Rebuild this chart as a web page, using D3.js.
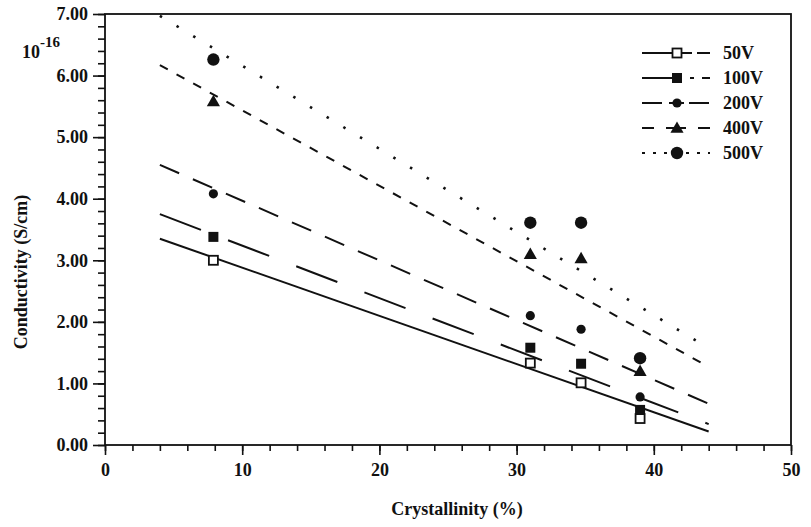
<!DOCTYPE html>
<html>
<head>
    <script src="https://d3js.org/d3.v7.min.js"></script>
    <style>
        body { margin: 0; background: #fff; }
        text { font-family: "Liberation Serif", "DejaVu Serif", serif; fill: #111; font-weight: bold; }
    </style>
</head>
<body>
    <svg id="mysvg" width="811" height="527"></svg>
    <script>
        // data
        var crystallinity = [7.9, 31.0, 34.7, 39.0];
        var seriesNames = ["50V", "100V", "200V", "400V", "500V"];
        var v50 = [3.00, 1.33, 1.01, 0.43];
        var v100 = [3.38, 1.58, 1.32, 0.57];
        var v200 = [4.08, 2.10, 1.88, 0.78];
        var v400 = [5.58, 3.10, 3.03, 1.20];
        var v500 = [6.26, 3.61, 3.61, 1.41];
        // fitted lines: start and end points
        var fit50 = [[4, 3.35], [44, 0.22]];
        var fit100 = [[4, 3.75], [44, 0.34]];
        var fit200 = [[4, 4.55], [44, 0.67]];
        var fit400 = [[4, 6.17], [44, 1.27]];
        var fit500 = [[4, 6.97], [44, 1.57]];
        var yTicks = [0, 1, 2, 3, 4, 5, 6, 7];
        var xTicks = [0, 10, 20, 30, 40, 50];

        var svg = d3.select("svg");
        var margin = { top: 14, left: 105, right: 20, bottom: 82 };

        var xScale = d3.scaleLinear().domain([0, 50]).range([margin.left, 791]);
        var yScale = d3.scaleLinear().domain([0, 7]).range([445, margin.top]);

        var lineDash = ["", "44,29", "21,15", "9,10", "2.5,17"];
        var legendDash = ["50,5,14", "40,8,4,8,8", "20,7,15,5,20", "12,12,20,12,12", "3,8,3,8"];
        var markers = ["openSquare", "square", "dot", "triangle", "circle"];
        var series = [
            { vals: v50, fit: fit50 },
            { vals: v100, fit: fit100 },
            { vals: v200, fit: fit200 },
            { vals: v400, fit: fit400 },
            { vals: v500, fit: fit500 }
        ];
        series.forEach(function (s, i) {
            s.name = seriesNames[i];
            s.dash = lineDash[i];
            s.ldash = legendDash[i];
            s.marker = markers[i];
        });

        // frame
        svg.append("rect")
            .attr("x", xScale(0)).attr("y", yScale(7))
            .attr("width", xScale(50) - xScale(0))
            .attr("height", yScale(0) - yScale(7))
            .attr("fill", "none").attr("stroke", "#111").attr("stroke-width", 1.8);

        // axes
        var xAxis = d3.axisBottom(xScale).tickValues(xTicks).tickFormat(d3.format("d")).tickSize(10).tickPadding(8);
        var xMinor = d3.axisBottom(xScale).tickValues(d3.range(0, 51, 2)).tickFormat("").tickSize(6);
        var yAxis = d3.axisLeft(yScale).tickValues(yTicks).tickFormat(d3.format(".2f")).tickSize(12).tickPadding(5);
        var yMinor = d3.axisLeft(yScale).tickValues(d3.range(0, 7.01, 0.2)).tickFormat("").tickSize(7);

        function styleAxis(g) {
            g.select(".domain").remove();
            g.selectAll("line").attr("stroke", "#111").attr("stroke-width", 1.6);
            g.selectAll("text").attr("font-size", 18).attr("font-family", "Liberation Serif").attr("fill", "#111");
        }

        svg.append("g").attr("transform", "translate(0,445)").call(xMinor).call(styleAxis);
        svg.append("g").attr("transform", "translate(0,445)").call(xAxis).call(styleAxis);
        svg.append("g").attr("transform", "translate(" + margin.left + ",0)").call(yMinor).call(styleAxis);
        svg.append("g").attr("transform", "translate(" + margin.left + ",0)").call(yAxis).call(styleAxis);

        // exponent label
        var expo = svg.append("text").attr("x", 22).attr("y", 58).attr("font-size", 18);
        expo.append("tspan").text("10");
        expo.append("tspan").attr("dy", -11).attr("font-size", 15).text("-16");

        // axis titles
        svg.append("text")
            .attr("x", 457).attr("y", 515)
            .attr("text-anchor", "middle")
            .attr("font-size", 18)
            .text("Crystallinity (%)");

        svg.append("text")
            .attr("transform", "translate(27,272) rotate(-90)")
            .attr("text-anchor", "middle")
            .attr("font-size", 18)
            .text("Conductivity (S/cm)");

        // fitted lines
        var line = d3.line().x(function (d) { return xScale(d[0]) }).y(function (d) { return yScale(d[1]) });
        series.forEach(function (s) {
            svg.append("path")
                .datum(s.fit)
                .attr("d", line)
                .attr("fill", "none")
                .attr("stroke", "#111")
                .attr("stroke-width", s.marker == "circle" ? 2.6 : 2)
                .attr("stroke-dasharray", s.dash || null);
        });

        // markers
        function drawMarker(g, type, x, y) {
            if (type == "openSquare") {
                g.append("rect").attr("x", x - 4.5).attr("y", y - 4.5).attr("width", 9).attr("height", 9)
                    .attr("fill", "#fff").attr("stroke", "#111").attr("stroke-width", 1.8);
            } else if (type == "square") {
                g.append("rect").attr("x", x - 5).attr("y", y - 5).attr("width", 10).attr("height", 10).attr("fill", "#111");
            } else if (type == "dot") {
                g.append("circle").attr("cx", x).attr("cy", y).attr("r", 4.6).attr("fill", "#111");
            } else if (type == "triangle") {
                g.append("path").attr("d", d3.symbol().type(d3.symbolTriangle).size(75)())
                    .attr("transform", "translate(" + x + "," + (y + 1) + ")").attr("fill", "#111");
            } else {
                g.append("circle").attr("cx", x).attr("cy", y).attr("r", 6.2).attr("fill", "#111");
            }
        }

        var pts = svg.append("g");
        series.forEach(function (s) {
            s.vals.forEach(function (v, i) {
                drawMarker(pts, s.marker, xScale(crystallinity[i]), yScale(v));
            });
        });

        // legend
        var legend = svg.append("g");
        series.forEach(function (s, i) {
            var y = 53 + i * 25;
            legend.append("line")
                .attr("x1", 642).attr("x2", 710).attr("y1", y).attr("y2", y)
                .attr("stroke", "#111").attr("stroke-width", 2)
                .attr("stroke-dasharray", s.ldash);
            drawMarker(legend, s.marker, 677, y);
            legend.append("text")
                .attr("x", 723).attr("y", y + 6)
                .attr("font-size", 18)
                .text(s.name);
        });
    </script>
</body>
</html>
